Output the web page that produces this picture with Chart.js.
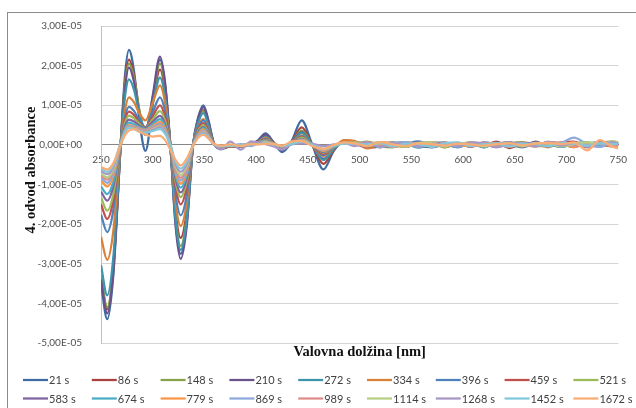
<!DOCTYPE html>
<html>
<head>
<meta charset="utf-8">
<script src="https://cdn.jsdelivr.net/npm/chart.js@4"></script>
<style>
  body { margin: 0; background: #fff; }
  canvas { display: block; }
</style>
</head>
<body>
<canvas id="chart" width="636" height="408"></canvas>
<script>
'use strict';

// values are stored in units of 1e-6 (axis shows 1,00E-05 etc.)
const valueUnit = 1e-6;

const wavelengths = [250, 256, 262, 269, 273, 277, 282, 287, 293, 300, 307, 312, 317, 322, 327, 333, 339, 344, 349, 354, 359, 366,
  375, 385, 395, 402, 409, 417, 425, 434, 444, 454, 465, 475, 485,
  495, 507, 520, 532, 545, 557, 570, 582, 595, 607, 620, 632, 645, 657, 670, 682, 695, 707, 720, 732, 745, 750];

const seriesLabels = ['21 s', '86 s', '148 s', '210 s', '272 s', '334 s', '396 s', '459 s', '521 s',
  '583 s', '674 s', '779 s', '869 s', '989 s', '1114 s', '1268 s', '1452 s', '1672 s'];

const s21 = [-35, -44, -32.6, 0, 17, 24, 18.4, 6.4, -1.5, 10, 21.5, 15, 0, -19.3, -27.5, -19.3, 0, 7, 10, 6, 0.5, -1,
  -0.4, -0.3, 0.2, 1.2, 2.9, 0.6, -1.8, 0.8, 6.2, 0.2, -6.2, -1.5, 1.0,
  0.6, 0.2, -0.5, 0.3, 0.6, -0.2, -0.6, 0.2, 0.5, -0.3, 0.1, 0.6, -0.4, -0.2, 0.5, 0.2, -0.5, 0.3, 0.6, -0.3, 0.2, 0.4];
const s86 = [-33.2, -41.5, -30.7, 0, 15.3, 21.5, 17.4, 8.7, 3, 11, 19, 13.3, 0, -16.5, -23.5, -16.5, 0, 6.2, 8.8, 5.3, 0.4, -0.9,
  -0.3, -0.4, 0.3, 1.0, 2.5, 0.5, -1.2, 0.7, 4.4, 0.1, -4.8, -1.2, 1.1,
  0.9, -0.7, -0.4, 0.5, -0.3, 0.4, 0.7, -0.5, 0.2, 0.4, -0.6, 0.8, -0.8, 0.3, -0.2, 0.7, 0.3, -0.5, 0.4, 0.2, -0.4, -0.1];
const s148 = [-32.8, -41, -30.3, 0, 14.6, 20.5, 16.8, 8.8, 3.5, 12, 20.5, 14.4, 0, -17.9, -25.5, -17.9, 0, 6, 8.5, 5.1, 0.4, -0.9,
  -0.4, -0.2, 0.2, 0.9, 2.3, 0.4, -1.0, 0.6, 3.6, 0.2, -3.8, -1.0, 0.9,
  0.4, 0.8, -0.3, -0.6, 0.5, 0.2, -0.4, 0.5, -0.2, 0.6, 0.1, -0.5, 0.4, 0.7, -0.3, -0.2, 0.6, 0.1, -0.4, 0.5, 0.9, 0.6];
const s210 = [-34, -42.5, -31.5, 0, 13.8, 19.5, 15.8, 7.8, 2.5, 12.4, 22.3, 15.6, 0, -20.2, -28.8, -20.2, 0, 6.7, 9.5, 5.7, 0.5, -1,
  -0.3, -0.5, 0.1, 1.0, 2.6, 0.5, -1.3, 0.6, 3.2, 0.0, -3.5, -0.9, 0.8,
  0.3, -0.4, 0.6, 0.2, -0.5, 0.5, 0.1, -0.3, 0.4, -0.5, 0.3, 0.2, 0.6, -0.4, 0.8, -0.3, 0.2, 0.5, -0.2, 0.4, 0.1, 0.2];
const s272 = [-30.4, -38, -28.1, 0, 11.7, 16.5, 13.8, 7.9, 4, 10.5, 17, 11.9, 0, -18.6, -26.5, -18.6, 0, 5.6, 8, 4.8, 0.4, -0.8,
  -0.2, -0.3, 0.3, 0.8, 2.0, 0.4, -0.9, 0.5, 3.0, 0.1, -3.8, -1.0, 0.7,
  0.7, 0.1, -0.6, 0.5, 0.2, -0.7, 0.3, 0.6, -0.5, 0.2, -0.3, 0.5, 0.1, -0.6, 0.3, 0.4, -0.2, 0.6, -0.5, 0.3, 0.6, 0.3];
const s334 = [-23.2, -29, -21.5, 0, 8.5, 12, 10.7, 8, 6.2, 10.6, 15, 10.5, 0, -14.4, -20.5, -14.4, 0, 4.6, 6.5, 3.9, 0.3, -0.7,
  -0.3, -0.1, 0.4, 0.7, 1.8, 0.3, -0.8, 0.5, 2.4, 0.0, -2.8, -0.7, 1.2,
  1.0, -0.9, 0.3, 0.6, -0.4, 0.1, 0.5, -0.6, 0.3, 0.2, -0.5, 0.4, -0.3, 0.6, 0.2, -0.6, 0.4, -0.2, 0.5, -0.4, 0.3, 0.1];
const s396 = [-17.6, -22, -16.3, 0, 6.8, 9.6, 8.5, 6.1, 4.5, 8.2, 12, 8.4, 0, -12.5, -17.8, -12.5, 0, 4.3, 6.2, 3.7, 0.3, -0.6,
  -0.2, -0.3, 0.2, 0.6, 1.5, 0.3, -0.7, 0.4, 2.2, 0.1, -2.6, -0.6, 0.6,
  0.2, 0.5, -0.2, -0.4, 0.3, 0.9, -0.2, 0.1, -0.6, 0.4, 0.3, -0.3, 0.5, 0.2, -0.4, 0.6, 0.2, -0.5, 0.3, 0.6, -0.2, 0.3];
const s459 = [-15, -18.7, -13.8, 0, 6, 8.4, 7.5, 5.6, 4.4, 7.2, 10, 7, 0, -10.5, -15, -10.5, 0, 3.9, 5.5, 3.3, 0.3, -0.6,
  -0.3, -0.2, 0.3, 0.5, 1.3, 0.2, -0.6, 0.4, 2.0, 0.0, -2.3, -0.5, 0.7,
  0.5, -0.3, 0.4, -0.5, 0.3, -0.2, 0.6, 0.2, -0.4, 0.5, -0.3, 0.2, 0.7, -0.5, 0.3, -0.4, 0.6, 0.8, -0.6, 0.2, 0.4, 0.1];
const s521 = [-13.3, -16.6, -12.3, 0, 5.3, 7.4, 6.7, 5.3, 4.3, 6.4, 8.5, 6, 0, -9.2, -13.2, -9.2, 0, 3.5, 5, 3, 0.3, -0.5,
  -0.1, -0.3, 0.2, 0.5, 1.2, 0.3, -0.5, 0.3, 1.8, 0.1, -2.0, -0.5, 0.6,
  0.6, 0.3, 0.7, -0.2, -0.5, 0.4, 0.3, -0.6, 0.4, 0.1, 0.5, -0.4, 0.2, 0.4, -0.3, 0.5, -0.2, 0.3, 0.6, -0.1, 0.7, 0.5];
const s583 = [-11.8, -14.1, -10.4, 0, 4.6, 6.4, 5.9, 4.9, 4.2, 5.8, 7.3, 5.1, 0, -8.4, -12, -8.4, 0, 3.2, 4.5, 2.7, 0.2, -0.5,
  -0.2, -0.1, 0.3, 0.4, 1.1, 0.2, -0.5, 0.3, 1.5, 0.0, -1.8, -0.4, 0.5,
  0.2, -0.5, 0.3, 0.4, -0.3, 0.6, -0.5, 0.2, 0.3, -0.4, 0.6, 0.2, -0.5, 0.3, 0.5, -0.2, 0.1, 0.4, -0.3, 0.6, 0.2, 0.3];
const s674 = [-10.5, -12.4, -9.2, 0, 4, 5.6, 5.2, 4.5, 4, 5.2, 6.5, 4.6, 0, -7.6, -10.8, -7.6, 0, 2.9, 4.2, 2.5, 0.2, -0.4,
  -0.2, -0.2, 0.2, 0.4, 1.0, 0.2, -0.4, 0.3, 1.4, 0.1, -1.6, -0.4, 0.6,
  0.4, 0.2, -0.4, 0.6, 0.2, -0.6, 0.4, 0.1, -0.5, 0.5, -0.6, 0.3, 0.4, -0.3, 0.2, 0.5, -0.5, 0.2, 0.4, -0.4, 0.5, 0.4];
const s779 = [-9, -10.5, -7.8, 0, 3.6, 5, 4.7, 4.2, 3.8, 4.8, 5.8, 4.1, 0, -6.9, -9.8, -6.9, 0, 2.7, 3.9, 2.3, 0.2, -0.4,
  -0.1, -0.3, 0.3, 0.3, 0.9, 0.3, -0.4, 0.2, 1.3, 0.0, -1.5, -0.3, 0.5,
  0.5, -0.4, 0.2, -0.3, 0.6, 0.2, -0.4, 0.5, 0.1, -0.4, 0.3, 0.5, -0.5, 0.2, -0.3, 0.6, 0.2, -0.6, 0.4, 0.3, -0.3, -0.2];
const s869 = [-8.3, -9.6, -7.1, 0, 3.4, 4.8, 4.5, 4, 3.6, 4.5, 5.3, 3.7, 0, -6.3, -9, -6.3, 0, 2.5, 3.6, 2.2, 0.2, -0.4,
  -0.2, 0.2, -0.3, 0.4, 0.8, 0.1, -0.3, 0.3, 1.2, 0.1, -1.3, -0.3, 0.4,
  0.1, 0.5, -0.5, 0.2, 0.7, -0.4, 0.3, -0.3, 0.5, 0.2, -0.2, 0.4, 0.6, -0.4, 0.3, -0.2, 0.5, 1.8, 0.2, -0.5, 0.4, 0.2];
const s989 = [-7.7, -8.8, -6.5, 0.2, 3.3, 4.6, 4.3, 3.8, 3.4, 4.2, 5, 3.5, 0, -5.8, -8.3, -5.8, 0, 2.4, 3.4, 2, 0.2, -0.3,
  -0.1, -0.2, 0.2, 0.3, 0.7, 0.2, -0.3, 0.2, 1.1, 0.0, -1.2, -0.2, 0.5,
  0.3, 0.6, 0.1, -0.5, 0.2, 0.4, -0.4, 0.6, -0.2, 0.3, 0.5, -0.5, 0.3, 0.2, -0.4, 0.4, 0.6, -0.3, 0.2, 0.5, -0.3, 0.1];
const s1114 = [-7.2, -8.2, -6.1, 0.3, 3.2, 4.4, 4.1, 3.6, 3.2, 4, 4.7, 3.3, 0, -5.3, -7.6, -5.3, 0, 2.2, 3.2, 1.9, 0.2, -0.3,
  -0.2, -0.1, 0.3, 0.3, 0.6, 0.2, -0.3, 0.3, 1.0, 0.1, -1.1, -0.2, 0.4,
  0.5, -0.2, 0.4, 0.2, -0.4, 0.5, 0.7, -0.3, 0.2, 0.6, -0.4, 0.1, 0.4, -0.3, 0.5, 0.3, -0.4, 0.2, 0.6, 0.3, 0.8, 0.7];
const s1268 = [-6.6, -7.4, -5.5, 0.4, 3.1, 4.3, 4, 3.5, 3.1, 3.8, 4.4, 3.1, 0, -4.8, -6.8, -4.8, 0, 2.1, 3, 1.8, 0.2, -1.2,
  0.8, -1.2, 0.9, 0.5, 0.2, -0.4, -1.2, 0.1, 0.4, 0.3, -0.3, 0.1, 0.5,
  -0.3, 0.6, -0.6, 0.5, 0.4, -0.5, 0.3, 0.2, -0.4, 0.6, 0.3, -0.6, 0.2, 0.5, -0.3, 0.8, -0.2, 0.4, -0.5, 0.3, 0.6, 0.4];
const s1452 = [-6, -6.8, -5, 0.5, 3.1, 4.3, 4, 3.4, 3, 3.5, 4, 2.8, 0, -4.2, -6, -4.2, 0, 2, 2.8, 1.7, 0.2, -0.3,
  -0.1, -0.2, 0.2, 0.2, 0.5, 0.1, -0.3, 0.2, 0.9, 0.0, -1.0, -0.2, 0.4,
  0.3, 0.1, 0.5, -0.4, 0.3, 0.2, -0.5, 0.4, 0.6, -0.3, 0.2, 0.4, -0.4, 0.3, 0.2, -0.4, 0.5, 0.3, -0.2, 0.4, 0.2, 0.3];
const s1672 = [-5.6, -6.2, -4.6, 0, 2.4, 3.6, 4.0, 3.3, 2.6, 2.1, 2.3, 1.2, -1.2, -3.8, -5.2, -3.4, -0.2, 1.8, 2.5, 1.6, 0.3, -0.2,
  0.1, -0.3, 0.2, 0.1, 0.3, 0.2, -0.2, 0.8, 1.0, -0.3, -1.0, 0.0, 0.6,
  0.4, -0.3, 0.7, 0.1, -0.3, 0.4, 0.2, -0.2, 0.3, 0.1, -0.2, 0.2, 0.4, -0.1, 0.3, 0.5, 0.2, 0.6, -1.4, 1.2, -0.5, -0.9];

const seriesValues = [s21, s86, s148, s210, s272, s334, s396, s459, s521,
  s583, s674, s779, s869, s989, s1114, s1268, s1452, s1672];

const xTicks = [250, 300, 350, 400, 450, 500, 550, 600, 650, 700, 750];
const yTicks = [30, 20, 10, 0, -10, -20, -30, -40, -50];

const xTitle = 'Valovna dolžina [nm]';
const yTitle = '4. odvod absorbance';

const seriesColors = [
  '#3F6CA3', '#A9423F', '#86A34B', '#6B518C', '#3C95AD', '#D98036',
  '#4F81BD', '#C0504D', '#9BBB59', '#8064A2', '#4BACC6', '#F79646',
  '#8EA9DB', '#DF8B89', '#B5CF84', '#A897C4', '#82C8DC', '#F9AD74',
];

const tickFont = { family: 'Lato', size: 10 };
const tickColor = '#505050';

function formatSci(v) {
  if (v === 0) {
    return '0,00E+00';
  }
  let real = v * valueUnit;
  let exp = Math.floor(Math.log10(Math.abs(real)) + 1e-9);
  let mant = real / Math.pow(10, exp);
  let sign = exp < 0 ? '-' : '+';
  return mant.toFixed(2).replace('.', ',') + 'E' + sign + String(Math.abs(exp)).padStart(2, '0');
}

let datasets = [];
for (let i = 0; i < seriesLabels.length; i++) {
  let points = [];
  for (let j = 0; j < wavelengths.length; j++) {
    points.push({ x: wavelengths[j], y: seriesValues[i][j] });
  }
  datasets.push({
    label: seriesLabels[i],
    data: points,
    borderColor: seriesColors[i],
    backgroundColor: seriesColors[i],
    borderWidth: 2.25,
    pointRadius: 0,
    cubicInterpolationMode: 'monotone',
    order: seriesLabels.length - i,
  });
}

// frame, titles and the two-row legend like the Excel original
const decorPlugin = {
  id: 'decor',
  beforeDraw(chart) {
    let ctx = chart.ctx;
    ctx.save();
    ctx.fillStyle = '#fff';
    ctx.fillRect(0, 0, chart.width, chart.height);
    ctx.strokeStyle = '#8c8c8c';
    ctx.lineWidth = 1;
    ctx.strokeRect(7.5, 12.5, 700, 500);
    ctx.restore();
  },
  afterDraw(chart) {
    let ctx = chart.ctx;
    let area = chart.chartArea;
    ctx.save();
    ctx.fillStyle = '#111';
    ctx.font = 'bold 14.5px "Liberation Serif"';
    ctx.textAlign = 'center';
    ctx.textBaseline = 'middle';
    ctx.fillText(xTitle, (area.left + area.right) / 2, 352);
    ctx.translate(31, 170);
    ctx.rotate(-Math.PI / 2);
    ctx.fillText(yTitle, 0, 0);
    ctx.restore();

    ctx.save();
    ctx.font = '11px Lato';
    ctx.textAlign = 'left';
    ctx.textBaseline = 'middle';
    for (let i = 0; i < seriesLabels.length; i++) {
      let col = i % 9;
      let row = Math.floor(i / 9);
      let x = 23 + col * 68.8;
      let y = row === 0 ? 380 : 398.5;
      ctx.strokeStyle = seriesColors[i];
      ctx.lineWidth = 2.25;
      ctx.beginPath();
      ctx.moveTo(x, y);
      ctx.lineTo(x + 25, y);
      ctx.stroke();
      ctx.fillStyle = '#404040';
      ctx.fillText(seriesLabels[i], x + 26, y + 0.5);
    }
    ctx.restore();
  },
};

let chartConfig = {
  type: 'line',
  data: { datasets: datasets },
  options: {
    responsive: false,
    animation: false,
    devicePixelRatio: 1,
    layout: {
      padding: { left: 0, right: 11, top: 26, bottom: 65 },
    },
    plugins: {
      legend: { display: false },
      tooltip: { enabled: false },
    },
    scales: {
      x: {
        type: 'linear',
        position: { y: 0 },
        min: 250,
        max: 750,
        afterBuildTicks: (scale) => {
          scale.ticks = xTicks.map((v) => ({ value: v }));
        },
        ticks: {
          font: tickFont,
          color: tickColor,
          padding: 9,
          maxRotation: 0,
          autoSkip: false,
        },
        grid: { display: false, drawTicks: false },
        border: { display: true, color: '#868686', width: 1 },
      },
      y: {
        type: 'linear',
        position: 'left',
        min: -50,
        max: 30,
        afterBuildTicks: (scale) => {
          scale.ticks = yTicks.map((v) => ({ value: v }));
        },
        afterFit: (scale) => {
          scale.width = 101;
        },
        ticks: {
          font: tickFont,
          color: tickColor,
          padding: 19,
          callback: (v) => formatSci(v),
        },
        grid: { color: '#d4d4d4', drawTicks: false },
        border: { display: true, color: '#bfbfbf', width: 1 },
      },
    },
  },
  plugins: [decorPlugin],
};

let chart = new Chart(document.getElementById('chart'), chartConfig);
</script>
</body>
</html>
